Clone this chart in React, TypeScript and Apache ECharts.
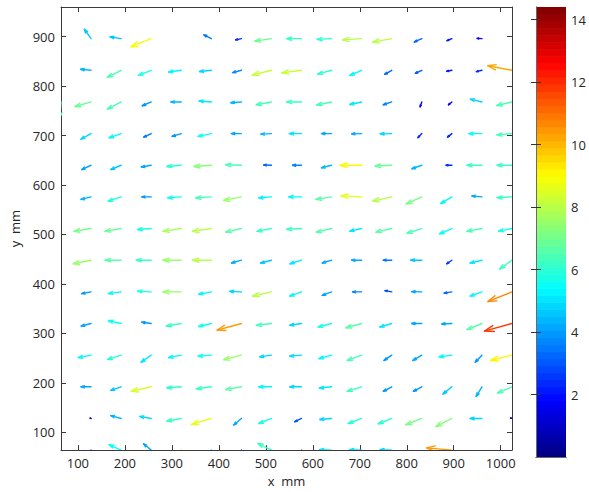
import { useEffect, useRef } from "react";
import * as echarts from "echarts";

// Grid of measurement points (mm)
const X_MM = [64, 128, 192, 256, 320, 384, 448, 512, 576, 640, 704, 768, 832, 896, 960, 1024];
const Y_MM = [960, 896, 832, 768, 704, 640, 576, 512, 448, 384, 320, 256, 192, 128, 64];

const X_TICKS = [100, 200, 300, 400, 500, 600, 700, 800, 900, 1000];
const Y_TICKS = [100, 200, 300, 400, 500, 600, 700, 800, 900];
const CBAR_TICKS = [2, 4, 6, 8, 10, 12, 14];

const SPEED_MIN = 0;
const SPEED_MAX = 14.4;
const COLOR_LEVELS = 64;
// arrow length in mm per unit of speed
const ARROW_SCALE = 5.1;

// Horizontal velocity component, one row per Y_MM entry (null = no vector)
const U_ROWS: (number | null)[][] = [
  [null, null, null, null, null, null, null, null, null, null, null, null, null, null, null, null],
  [null, -2.8, -4.6, -8.4, null, -3.1, -2.4, -6.9, -6.2, -6.0, -7.9, -7.9, -3.1, -2.0, -2.0, null],
  [null, -4.3, -5.7, -5.3, -5.3, -4.9, -3.6, -8.0, -8.2, -5.8, -4.9, -2.9, -2.7, -2.1, -2.3, -10.1],
  [-0.5, -6.7, -5.7, -3.7, -4.3, -5.1, -4.4, -6.3, -6.2, -6.2, -4.9, -3.5, -0.7, -1.4, -4.8, -6.3],
  [null, -4.2, -5.0, -3.1, -3.8, -5.5, -4.2, -4.4, -5.1, -4.2, -4.2, -4.8, -1.6, -1.8, -5.5, -6.3],
  [null, -3.9, -4.3, -4.1, -6.0, -7.2, -6.5, -3.2, -3.7, -4.2, -9.0, -6.9, -4.1, -2.4, -6.2, -6.2],
  [null, -4.2, -5.4, -3.9, -5.6, -6.5, -7.4, -5.3, -5.3, -6.5, -8.6, -7.9, -6.5, -4.6, -4.2, -6.2],
  [null, -7.1, -6.7, -5.7, -7.6, -7.9, -6.5, -6.0, -6.2, -6.4, -4.9, -6.6, -6.1, -5.1, -6.3, -5.6],
  [null, -7.4, -6.7, -6.2, -7.6, -7.9, -4.1, -4.5, -4.8, -3.9, -4.2, -3.5, -4.6, -2.1, -4.9, -5.1],
  [null, -3.9, -5.3, -5.7, -7.6, -5.3, -4.9, -7.9, -4.9, -3.9, -3.8, -2.8, -4.2, -3.2, -4.9, -10.0],
  [null, -4.1, -5.3, -3.9, -6.2, -5.3, -10.1, -6.3, -4.9, -5.6, -6.5, -4.9, -4.2, -4.2, -6.2, -11.5],
  [null, -5.3, -5.6, -4.2, -5.3, -5.5, -7.4, -4.9, -4.9, -5.2, -6.0, -3.2, -3.7, -5.3, -2.8, -8.9],
  [null, -4.2, -4.3, -8.3, -6.0, -6.2, -6.5, -5.3, -4.9, -5.1, -6.0, -3.5, -3.5, -3.7, -2.4, -6.0],
  [null, -0.4, -4.3, -4.7, -6.0, -8.3, -3.2, -5.3, -2.8, -4.9, -5.6, -5.6, -6.6, -6.7, -4.9, -0.6],
  [null, -1.0, -5.0, -3.2, -2.0, -1.5, -1.5, -5.6, -1.0, -5.0, -5.0, -4.8, null, -10.5, null, null],
];

// Vertical velocity component, same layout as U_ROWS
const V_ROWS: (number | null)[][] = [
  [null, null, null, null, null, null, null, null, null, null, null, null, null, null, null, null],
  [null, 3.75, 0.7, -3.2, null, 1.5, -0.5, -1.0, 0, -0.3, -0.5, -1.4, -1.3, -0.8, 0.1, null],
  [null, 0.4, -2.8, -2.0, -0.7, -0.5, -0.9, -1.9, -1.0, -1.5, -2.0, -1.6, -1.2, -0.4, -0.5, 1.8],
  [-6.3, -1.8, -2.8, -1.5, 0, 0.4, -0.3, -1.1, 0, -1.2, -1.0, -1.1, -1.9, -1.1, 1.1, -1.4],
  [null, -2.2, -1.7, -1.4, -1.1, -1.1, 0, -0.2, 0, 0, -0.1, -0.1, -1.6, -1.4, 0, -0.5],
  [null, -1.7, -1.7, -0.7, -0.5, -0.5, 0.2, 0.1, 0, -1.0, 0, -0.3, -1.4, 0, 0, 0],
  [null, -1.0, -1.7, 0, -0.4, -0.4, -1.4, -0.4, 0, -1.0, 0.4, -1.7, -2.8, -2.6, 0.4, -0.3],
  [null, -1.1, -1.1, -0.4, -1.1, -1.1, -1.4, -1.1, -0.3, -1.4, -1.0, -1.4, -1.8, -2.1, -1.1, -1.0],
  [null, -1.4, 0, 0, 0, 0, -1.1, -1.1, -1.4, -1.1, 0, 0, 0, -1.4, -1.1, -3.5],
  [null, -0.7, -0.7, 0.3, 0, -1.0, 0.2, -1.7, -1.7, -1.4, 0, 0.5, 0.1, -0.5, -1.7, -3.8],
  [null, -1.0, 1.1, 0.5, -1.0, -1.2, -2.6, -0.7, -0.7, -1.4, -1.7, -1.4, 0, -0.2, -2.4, -3.0],
  [null, -1.0, -1.7, -2.8, -1.0, -0.4, -1.8, -0.7, -0.4, -1.4, -2.1, -2.1, -2.1, -0.7, -2.8, -2.1],
  [null, 0, -1.4, -1.8, -0.4, -0.8, -1.1, 0, 0, -0.5, -1.8, -1.8, -1.8, -2.9, -3.8, -2.5],
  [null, 0.1, 1.1, 0.8, -1.0, -2.4, -2.6, -2.0, -1.3, -0.4, -2.0, -2.1, -2.5, -3.2, 0, 0.2],
  [null, -2.0, 2.1, 2.5, -7.5, -3.5, -2.0, 2.6, -2.5, 0.2, 0.2, 0.2, null, 0.9, null, null],
];

const FONT = "'Open Sans', 'Liberation Sans', sans-serif";
const AXIS_COLOR = "#3a3a3a";
const LABEL_COLOR = "#262626";

// Discrete jet colormap
function jetColor(value: number): string {
  const t = (value - SPEED_MIN) / (SPEED_MAX - SPEED_MIN);
  const idx = Math.min(COLOR_LEVELS - 1, Math.max(0, Math.floor(t * COLOR_LEVELS)));
  const x = (idx + 0.5) / COLOR_LEVELS;
  const c = (v: number) => Math.round(255 * Math.min(1, Math.max(0, v)));
  const r = c(Math.min(4 * x - 1.5, -4 * x + 4.5));
  const g = c(Math.min(4 * x - 0.5, -4 * x + 3.5));
  const b = c(Math.min(4 * x + 0.5, -4 * x + 2.5));
  return `rgb(${r},${g},${b})`;
}

function buildArrows() {
  const out: number[][] = [];
  Y_MM.forEach((y, r) => {
    X_MM.forEach((x, c) => {
      const u = U_ROWS[r][c];
      const v = V_ROWS[r][c];
      if (u === null || v === null) return;
      out.push([x, y, u, v, Math.hypot(u, v)]);
    });
  });
  return out;
}

function buildColorbar() {
  const step = (SPEED_MAX - SPEED_MIN) / COLOR_LEVELS;
  const out: number[][] = [];
  for (let i = 0; i < COLOR_LEVELS; i++) {
    out.push([SPEED_MIN + i * step, SPEED_MIN + (i + 1) * step]);
  }
  return out;
}

const plain = (v: number) => String(v);

export default function App() {
  const ref = useRef<HTMLDivElement>(null);

  useEffect(() => {
    if (!ref.current) return;
    const chart = echarts.init(ref.current, null, { renderer: "svg" });

    const tickLabel = { fontFamily: FONT, fontSize: 13, color: LABEL_COLOR, formatter: plain };
    const line = { show: true, lineStyle: { color: AXIS_COLOR, width: 1 } };

    const option: any = {
      animation: false,
      backgroundColor: "#ffffff",
      grid: [
        { left: 61, top: 7, width: 451, height: 449, containLabel: false },
        { left: 536, top: 7, width: 30, height: 450, containLabel: false },
      ],
      xAxis: [
        {
          type: "value",
          gridIndex: 0,
          position: "bottom",
          min: 64,
          max: 1024,
          name: "x  mm",
          nameLocation: "middle",
          nameGap: 21,
          nameTextStyle: { fontFamily: FONT, fontSize: 13, color: LABEL_COLOR },
          axisLine: line,
          axisTick: { show: true, inside: true, length: 5, customValues: X_TICKS, lineStyle: { color: AXIS_COLOR } },
          axisLabel: { ...tickLabel, margin: 6, customValues: X_TICKS },
          splitLine: { show: false },
        },
        {
          type: "value",
          gridIndex: 0,
          position: "top",
          min: 64,
          max: 1024,
          axisLine: line,
          axisTick: { show: true, inside: true, length: 5, customValues: X_TICKS, lineStyle: { color: AXIS_COLOR } },
          axisLabel: { show: false },
          splitLine: { show: false },
        },
        {
          type: "value",
          gridIndex: 1,
          position: "bottom",
          min: 0,
          max: 1,
          axisLine: { show: true, lineStyle: { color: "#6a6a6a", width: 1 } },
          axisTick: { show: false },
          axisLabel: { show: false },
          splitLine: { show: false },
          z: 5,
        },
        {
          type: "value",
          gridIndex: 1,
          position: "top",
          min: 0,
          max: 1,
          axisLine: { show: true, lineStyle: { color: "#6a6a6a", width: 1 } },
          axisTick: { show: false },
          axisLabel: { show: false },
          splitLine: { show: false },
          z: 5,
        },
      ],
      yAxis: [
        {
          type: "value",
          gridIndex: 0,
          position: "left",
          min: 64,
          max: 960,
          name: "y  mm",
          nameLocation: "middle",
          nameGap: 34,
          nameRotate: 90,
          nameTextStyle: { fontFamily: FONT, fontSize: 13, color: LABEL_COLOR },
          axisLine: line,
          axisTick: { show: true, inside: true, length: 5, customValues: Y_TICKS, lineStyle: { color: AXIS_COLOR } },
          axisLabel: { ...tickLabel, margin: 6, customValues: Y_TICKS },
          splitLine: { show: false },
        },
        {
          type: "value",
          gridIndex: 0,
          position: "right",
          min: 64,
          max: 960,
          axisLine: line,
          axisTick: { show: true, inside: true, length: 5, customValues: Y_TICKS, lineStyle: { color: AXIS_COLOR } },
          axisLabel: { show: false },
          splitLine: { show: false },
        },
        {
          type: "value",
          gridIndex: 1,
          position: "left",
          min: SPEED_MIN,
          max: SPEED_MAX,
          axisLine: { show: true, lineStyle: { color: "#6a6a6a", width: 1 } },
          axisTick: { show: true, inside: true, length: 5, customValues: CBAR_TICKS, lineStyle: { color: "#333" } },
          axisLabel: { show: false },
          splitLine: { show: false },
          z: 5,
        },
        {
          type: "value",
          gridIndex: 1,
          position: "right",
          min: SPEED_MIN,
          max: SPEED_MAX,
          axisLine: { show: true, lineStyle: { color: "#6a6a6a", width: 1 } },
          axisTick: { show: true, inside: true, length: 5, customValues: CBAR_TICKS, lineStyle: { color: "#333" } },
          axisLabel: { ...tickLabel, margin: 5, customValues: CBAR_TICKS },
          splitLine: { show: false },
          z: 5,
        },
      ],
      series: [
        {
          type: "custom",
          xAxisIndex: 0,
          yAxisIndex: 0,
          clip: true,
          data: buildArrows(),
          renderItem: (_params: any, api: any) => {
            const x = api.value(0);
            const y = api.value(1);
            const u = api.value(2);
            const v = api.value(3);
            const m = api.value(4);
            const p0 = api.coord([x, y]);
            const p1 = api.coord([x + ARROW_SCALE * u, y + ARROW_SCALE * v]);
            const dx = p1[0] - p0[0];
            const dy = p1[1] - p0[1];
            const a = 0.33;
            const b = 0.33;
            const w1 = [p1[0] - a * (dx + b * dy), p1[1] - a * (dy - b * dx)];
            const w2 = [p1[0] - a * (dx - b * dy), p1[1] - a * (dy + b * dx)];
            const style = { stroke: jetColor(m), lineWidth: 1.4, fill: null, lineJoin: "round", lineCap: "round" };
            return {
              type: "group",
              children: [
                { type: "polyline", shape: { points: [p0, p1] }, style },
                { type: "polyline", shape: { points: [w1, p1, w2] }, style },
              ],
            };
          },
        },
        {
          type: "custom",
          xAxisIndex: 2,
          yAxisIndex: 2,
          z: 1,
          data: buildColorbar(),
          renderItem: (_params: any, api: any) => {
            const lo = api.value(0);
            const hi = api.value(1);
            const pLo = api.coord([0, lo]);
            const pHi = api.coord([1, hi]);
            const mid = (lo + hi) / 2;
            return {
              type: "rect",
              shape: {
                x: pLo[0],
                y: pHi[1],
                width: pHi[0] - pLo[0],
                height: pLo[1] - pHi[1] + 0.6,
              },
              style: { fill: jetColor(mid) },
            };
          },
        },
      ],
    };

    chart.setOption(option);
    return () => chart.dispose();
  }, []);

  return (
    <div
      ref={ref}
      style={{ position: "fixed", left: 0, top: 0, width: 589, height: 492, background: "#fff" }}
    />
  );
}
